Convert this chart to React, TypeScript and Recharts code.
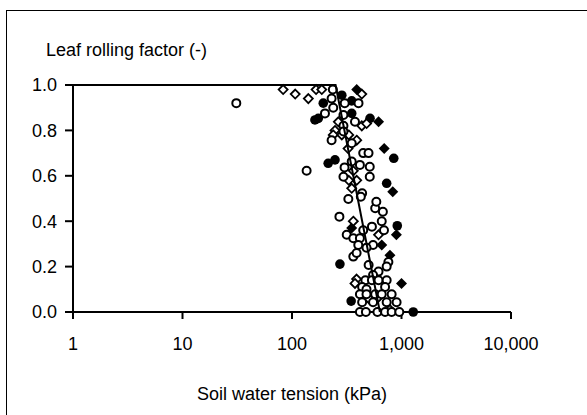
import { Scatter, ScatterChart, XAxis, YAxis } from 'recharts';

// [soil water tension (kPa), leaf rolling factor]
const openCircles = [
    [31, 0.92], [236, 0.98], [230, 0.94], [303, 0.92], [405, 0.92], [238, 0.9], [200, 0.875],
    [295, 0.868], [295, 0.82], [376, 0.838], [295, 0.795], [230, 0.757], [351, 0.743],
    [447, 0.7], [500, 0.7], [351, 0.663], [136, 0.622], [302, 0.637], [417, 0.648], [513, 0.64],
    [295, 0.596], [513, 0.596], [437, 0.523], [327, 0.498], [425, 0.508], [271, 0.42],
    [575, 0.457], [676, 0.442], [589, 0.486], [660, 0.4], [692, 0.36], [447, 0.36], [537, 0.376],
    [316, 0.34], [363, 0.325], [417, 0.325], [550, 0.295], [479, 0.283], [403, 0.295],
    [363, 0.244], [389, 0.26], [759, 0.22], [732, 0.2], [501, 0.207], [617, 0.178], [550, 0.163],
    [468, 0.14], [537, 0.14], [617, 0.14], [732, 0.14], [437, 0.11], [479, 0.1], [708, 0.11],
    [417, 0.078], [479, 0.078], [575, 0.078], [660, 0.078], [813, 0.078],
    [437, 0.043], [550, 0.043], [732, 0.043], [902, 0.043],
    [417, 0], [473, 0], [603, 0], [708, 0], [813, 0], [955, 0],
];

const filledCircles = [
    [285, 0.955], [193, 0.92], [351, 0.93], [174, 0.853], [162, 0.846], [351, 0.875],
    [516, 0.853], [850, 0.677], [247, 0.67], [214, 0.655], [732, 0.567], [915, 0.38],
    [274, 0.211], [347, 0.048], [1280, 0],
];

const openDiamonds = [
    [83, 0.98], [107, 0.96], [141, 0.94], [166, 0.98], [187, 0.98], [434, 0.96], [265, 0.838],
    [434, 0.82], [480, 0.83], [247, 0.8], [238, 0.78], [285, 0.78], [330, 0.78], [390, 0.757],
    [325, 0.72], [363, 0.622], [390, 0.58], [330, 0.58], [351, 0.545], [363, 0.4], [617, 0.34],
    [389, 0.145], [376, 0.126], [500, 0.06], [600, 0.06], [784, 0.01],
];

const filledDiamonds = [
    [390, 0.98], [617, 0.838], [695, 0.72], [832, 0.53], [898, 0.34], [351, 0.37],
    [660, 0.295], [784, 0.25], [1000, 0.126],
];

const fitLine = [[1, 1], [250, 1], [635, 0]];

const xTicks = [1, 10, 100, 1000, 10000];
const yTicks = [0, 0.2, 0.4, 0.6, 0.8, 1.0];

const toPoints = (rows: number[][]) => rows.map(([kpa, f]) => ({ kpa, f }));

const font = '"Liberation Sans", Arial, sans-serif';

const OpenCircle = (p: any) => (
    <circle cx={p.cx} cy={p.cy} r={4} fill="#fff" stroke="#000" strokeWidth={2} />
);
const FilledCircle = (p: any) => <circle cx={p.cx} cy={p.cy} r={4.8} fill="#000" />;
const OpenDiamond = (p: any) => (
    <path
        d={`M${p.cx},${p.cy - 4.5}L${p.cx + 4.5},${p.cy}L${p.cx},${p.cy + 4.5}L${p.cx - 4.5},${p.cy}Z`}
        fill="#fff"
        stroke="#000"
        strokeWidth={1.8}
    />
);
const FilledDiamond = (p: any) => (
    <path
        d={`M${p.cx},${p.cy - 5.5}L${p.cx + 5.5},${p.cy}L${p.cx},${p.cy + 5.5}L${p.cx - 5.5},${p.cy}Z`}
        fill="#000"
    />
);
const NoShape = () => <g />;

const App = () => {
    const tickStyle = { fill: '#000', fontSize: 18, fontFamily: font };

    return (
        <div style={{ position: 'absolute', left: 0, top: 0, width: 587, height: 415, overflow: 'hidden', background: '#fff' }}>
            <div style={{ position: 'absolute', left: 6, top: 10, width: 700, height: 500, border: '1px solid #000' }} />
            <div style={{ position: 'absolute', left: 46, top: 40, fontSize: 18, fontFamily: font, color: '#000', whiteSpace: 'nowrap' }}>
                Leaf rolling factor (-)
            </div>
            <div style={{ position: 'absolute', left: 73, width: 438, top: 384, textAlign: 'center', fontSize: 18, fontFamily: font, color: '#000' }}>
                Soil water tension (kPa)
            </div>
            <ScatterChart width={587} height={415} margin={{ top: 85, right: 76, bottom: 0, left: 0 }} style={{ position: 'absolute', left: 0, top: 0 }}>
                <XAxis
                    dataKey="kpa"
                    type="number"
                    scale="log"
                    domain={[1, 10000]}
                    ticks={xTicks}
                    allowDataOverflow
                    height={103}
                    tick={tickStyle}
                    tickSize={7}
                    tickMargin={18}
                    axisLine={{ stroke: '#000', strokeWidth: 2 }}
                    tickLine={{ stroke: '#000', strokeWidth: 2 }}
                    tickFormatter={(v: number) => v.toLocaleString('en-US')}
                />
                <YAxis
                    dataKey="f"
                    type="number"
                    domain={[0, 1]}
                    ticks={yTicks}
                    width={73}
                    tick={tickStyle}
                    tickSize={8}
                    tickMargin={8}
                    axisLine={{ stroke: '#000', strokeWidth: 2 }}
                    tickLine={{ stroke: '#000', strokeWidth: 2 }}
                    tickFormatter={(v: number) => v.toFixed(1)}
                />
                <Scatter data={toPoints(filledDiamonds)} shape={FilledDiamond} isAnimationActive={false} />
                <Scatter data={toPoints(filledCircles)} shape={FilledCircle} isAnimationActive={false} />
                <Scatter data={toPoints(openDiamonds)} shape={OpenDiamond} isAnimationActive={false} />
                <Scatter data={toPoints(openCircles)} shape={OpenCircle} isAnimationActive={false} />
                <Scatter
                    data={toPoints(fitLine)}
                    shape={NoShape}
                    line={{ stroke: '#000', strokeWidth: 2 }}
                    lineType="joint"
                    isAnimationActive={false}
                />
            </ScatterChart>
        </div>
    );
};

export default App;
